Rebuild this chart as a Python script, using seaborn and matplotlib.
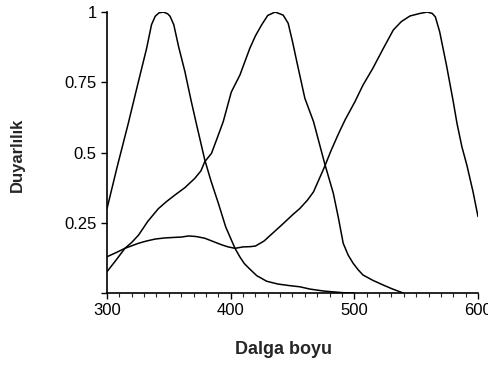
import matplotlib
matplotlib.use("Agg")
import matplotlib.pyplot as plt
import seaborn as sns
from matplotlib.ticker import MultipleLocator

sns.set_style("ticks")
plt.rcParams['font.family'] = ['Liberation Sans', 'DejaVu Sans']

# UV-sensitive curve
uv_x = [300, 308, 317, 325, 332, 336, 339, 342, 345.5, 349, 351, 354, 358, 363,
        368, 372.5, 379, 384, 390, 396, 403.5, 407.5, 411, 415.5, 421, 429, 438,
        448, 456, 464, 475, 491, 500]
uv_y = [0.30, 0.445, 0.60, 0.745, 0.87, 0.955, 0.985, 0.997, 1.0, 0.994, 0.985,
        0.955, 0.875, 0.788, 0.685, 0.598, 0.475, 0.40, 0.32, 0.235, 0.159, 0.128,
        0.105, 0.085, 0.062, 0.042, 0.032, 0.026, 0.022, 0.014, 0.007, 0.001, 0.0]

# Blue-sensitive curve
bl_x = [300, 307, 314.5, 320, 325.5, 333, 341.5, 348, 355, 363, 371, 376, 379,
        384.5, 389, 394, 400.5, 407.5, 415.5, 420, 425, 430, 436, 442.5, 446.5,
        450, 453.5, 460, 467, 476, 483, 487, 491, 495, 499, 503, 507, 515, 523.5,
        531, 539.5]
bl_y = [0.076, 0.115, 0.159, 0.18, 0.206, 0.255, 0.30, 0.325, 0.349, 0.375,
        0.408, 0.435, 0.467, 0.497, 0.55, 0.61, 0.715, 0.776, 0.871, 0.915, 0.954,
        0.988, 1.0, 0.989, 0.96, 0.895, 0.823, 0.693, 0.61, 0.461, 0.355, 0.27,
        0.177, 0.135, 0.106, 0.083, 0.064, 0.045, 0.028, 0.014, 0.0]

# Green-sensitive curve
gr_x = [300, 307, 314.5, 320, 325.5, 332, 339, 347, 355, 360, 366, 372, 379,
        386, 393, 398, 403.5, 410, 416, 420, 427, 434, 442, 450, 456, 462, 467,
        472, 476, 481, 487, 492.5, 500.5, 507, 515, 523.5, 531.5, 538, 545, 553,
        559, 563, 565.5, 569, 574.5, 580, 583, 587, 591, 596, 600]
gr_y = [0.129, 0.143, 0.159, 0.168, 0.177, 0.185, 0.192, 0.196, 0.198, 0.199,
        0.203, 0.201, 0.195, 0.183, 0.171, 0.164, 0.159, 0.164, 0.165, 0.167,
        0.185, 0.213, 0.245, 0.278, 0.301, 0.33, 0.36, 0.41, 0.45, 0.505, 0.565,
        0.616, 0.681, 0.74, 0.80, 0.871, 0.936, 0.966, 0.986, 0.995, 1.0, 0.995,
        0.983, 0.93, 0.811, 0.681, 0.604, 0.52, 0.455, 0.36, 0.272]

x_ticks = [300, 400, 500, 600]
y_ticks = [0, 0.25, 0.5, 0.75, 1]
y_tick_labels = ['', '0.25', '0.5', '0.75', '1']

fig = plt.figure(figsize=(4.89, 3.65), dpi=100)
ax = fig.add_axes([0.2188, 0.1973, 0.7587, 0.7697])

for xs, ys in [(uv_x, uv_y), (bl_x, bl_y), (gr_x, gr_y)]:
    sns.lineplot(x=xs, y=ys, ax=ax, color='black', linewidth=1.1,
                 sort=False, estimator=None)

ax.set_xlim(300, 600)
ax.set_ylim(0, 1)
ax.set_xticks(x_ticks)
ax.set_yticks(y_ticks)
ax.set_yticklabels(y_tick_labels)
ax.xaxis.set_minor_locator(MultipleLocator(10))
ax.tick_params(axis='both', which='major', direction='out', length=4.5, width=1,
               labelsize=12, colors='black', pad=3)
ax.tick_params(axis='x', which='minor', direction='out', length=3, width=0.8)
sns.despine(ax=ax)
for s in ['left', 'bottom']:
    ax.spines[s].set_color('black')
    ax.spines[s].set_linewidth(1.2)

ax.set_xlabel('Dalga boyu', fontsize=13, fontweight='bold')
ax.xaxis.set_label_coords(0.477, -0.172)
ax.set_ylabel('Duyarlılık', fontsize=12, fontweight='bold', labelpad=28)
ax.yaxis.label.set_y(0.49)

fig.savefig('out.png', dpi=100)
